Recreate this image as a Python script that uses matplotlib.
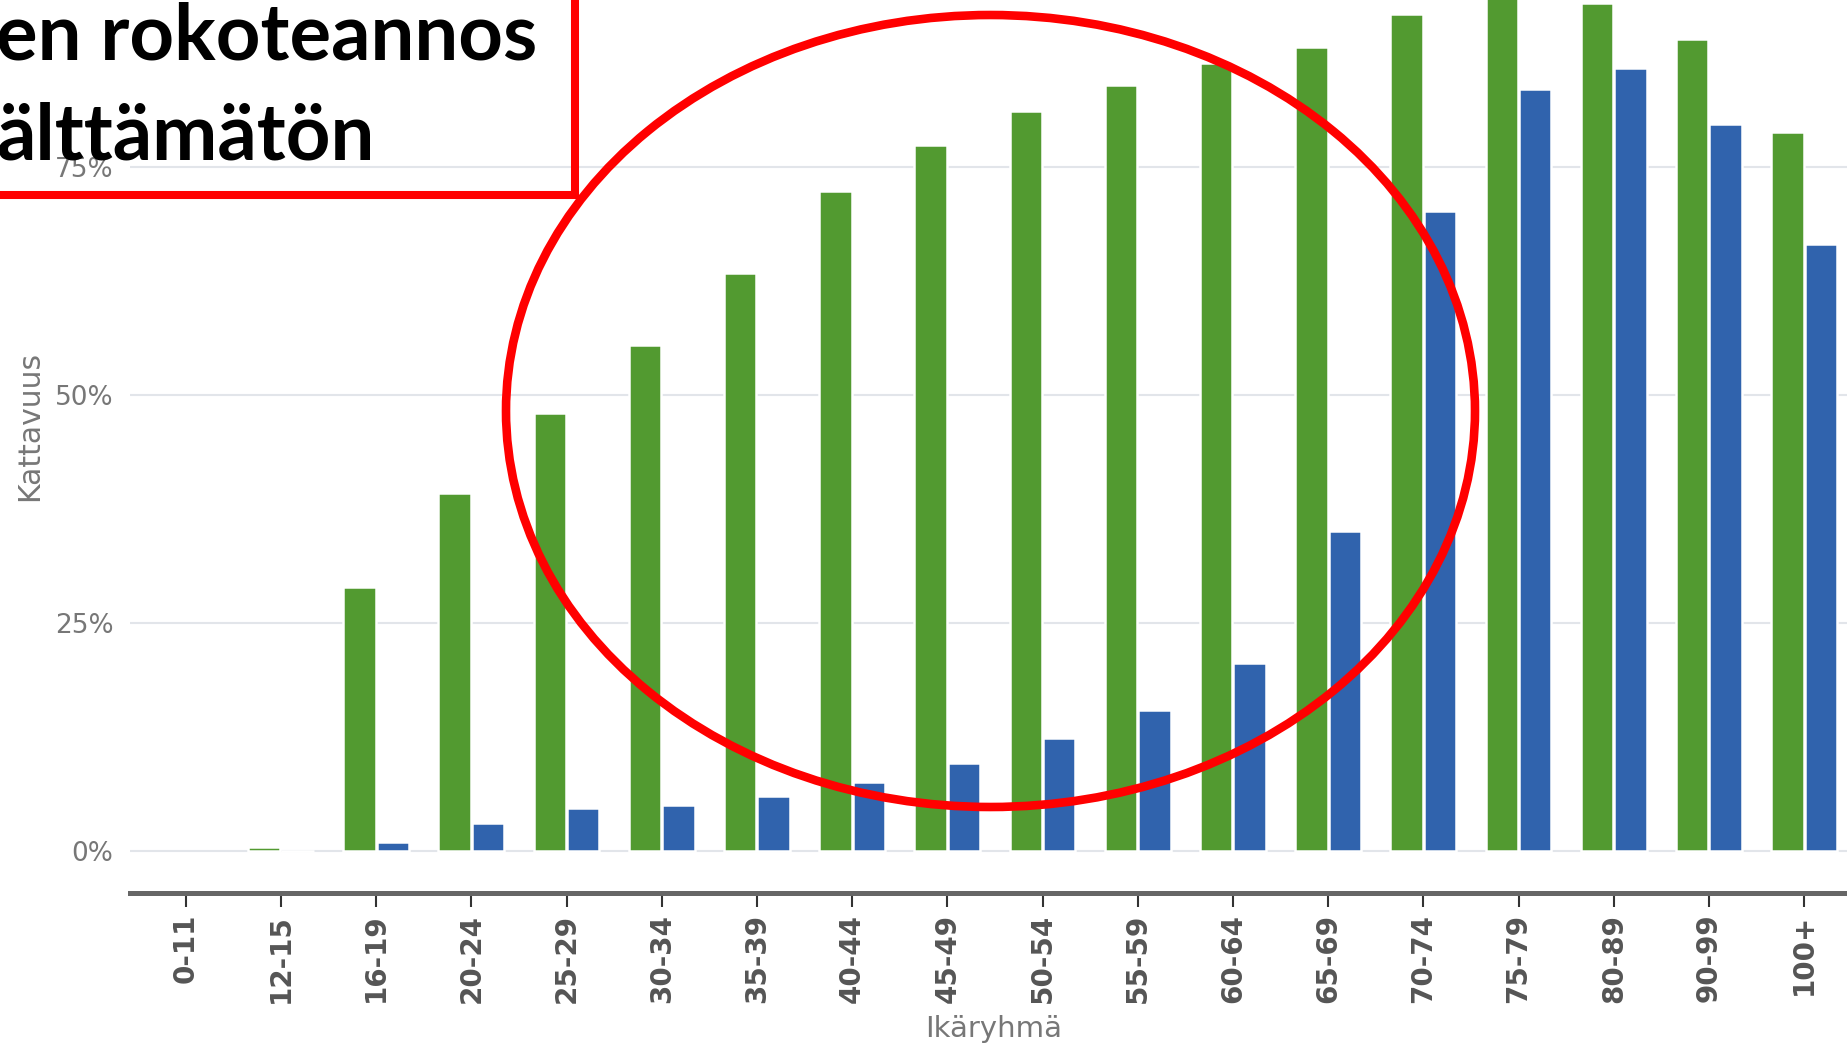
import matplotlib.pyplot as plt
import numpy as np
from matplotlib.patches import Ellipse, Rectangle

# ikäryhmät ja kattavuus (%)
age_groups = ['0-11', '12-15', '16-19', '20-24', '25-29', '30-34', '35-39', '40-44',
              '45-49', '50-54', '55-59', '60-64', '65-69', '70-74', '75-79', '80-89',
              '90-99', '100+']
dose1 = [np.nan, 0.4, 28.9, 39.3, 48.0, 55.5, 63.4, 72.4, 77.4, 81.2, 84.0, 86.5,
         88.2, 91.8, 93.6, 93.0, 89.1, 78.9]
dose2 = [np.nan, 0.0, 1.0, 3.0, 4.7, 5.0, 6.0, 7.5, 9.6, 12.4, 15.4, 20.6,
         35.1, 70.2, 83.6, 85.9, 79.8, 66.6]
y_ticks = [0, 25, 50, 75]
y_tick_labels = ['0%', '25%', '50%', '75%']
title_lines = ['en rokoteannos', 'älttämätön']

W, H = 1847, 1047
fig = plt.figure(figsize=(W / 100, H / 100), dpi=100)
ax = fig.add_axes([130 / W, (H - 893) / H, 1 - 130 / W, 893 / H])

x = np.arange(len(age_groups))
ax.bar(x - 0.175, dose1, width=0.34, color='#529a30', edgecolor='white', linewidth=1.8, zorder=2)
ax.bar(x + 0.175, dose2, width=0.34, color='#3063ad', edgecolor='white', linewidth=1.8, zorder=2)

ax.set_xlim(-0.585, 17.45)
ax.set_ylim(-4.64, 93.36)

ax.set_yticks(y_ticks)
ax.set_yticklabels(y_tick_labels)
ax.yaxis.grid(True, color='#e2e5ea', linewidth=1.5, zorder=0)
ax.set_axisbelow(True)
ax.tick_params(axis='y', length=0, pad=12, labelsize=19, labelcolor='#777777')

ax.set_xticks(x)
ax.set_xticklabels(age_groups, rotation=90, fontweight='bold')
ax.tick_params(axis='x', length=10, width=1.5, color='#333333', pad=5,
               labelsize=20, labelcolor='#555555')

for s in ['top', 'right', 'left']:
    ax.spines[s].set_visible(False)
ax.spines['bottom'].set_linewidth(3.6)
ax.spines['bottom'].set_color('#666666')

fig.text(994 / W, 1 - 1029 / H, 'Ikäryhmä', ha='center', va='center',
         fontsize=21, color='#777777')
fig.text(30 / W, 1 - 426 / H, 'Kattavuus', ha='center', va='center',
         rotation=90, fontsize=21.5, color='#777777')

# punainen laatikko ja teksti
fig.patches.append(Rectangle((-20 / W, 1 - 195 / H), (575 + 20) / W, 300 / H,
                             transform=fig.transFigure, fill=False,
                             edgecolor='#ff0000', linewidth=5.8, zorder=5))
fig.text(-4 / W, 1 - 59 / H, title_lines[0], ha='left', va='baseline',
         fontsize=56, fontweight='bold', family='Lato', color='black', zorder=6)
fig.text(-4 / W, 1 - 159 / H, title_lines[1], ha='left', va='baseline',
         fontsize=56, fontweight='bold', family='Lato', color='black', zorder=6)

# punainen ellipsi
fig.patches.append(Ellipse((990.5 / W, 1 - 411 / H), 969 / W, 792 / H,
                           transform=fig.transFigure, fill=False,
                           edgecolor='#ff0000', linewidth=6.2, zorder=5))

fig.savefig('out.png', dpi=100)
